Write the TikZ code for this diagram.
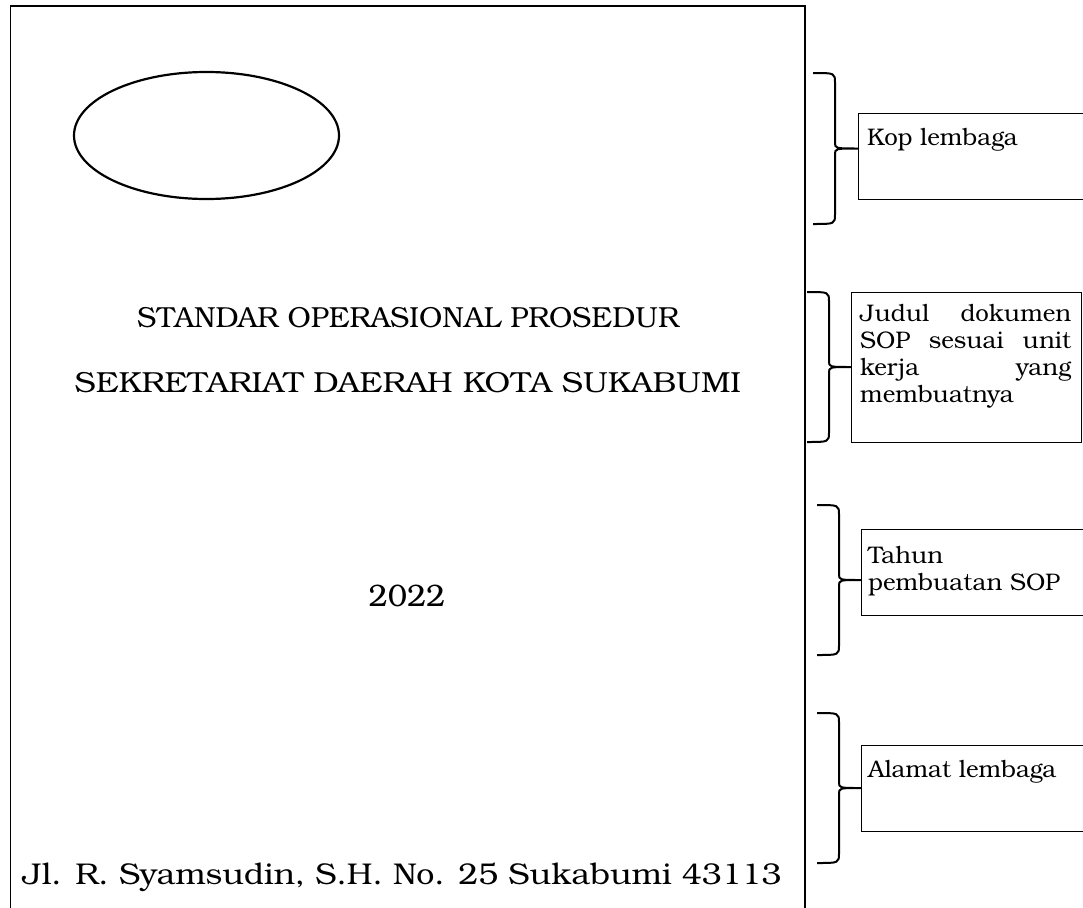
\documentclass[tikz,border=0pt]{standalone}
\usepackage{fontspec}
\setmainfont{TeX Gyre Bonum}
\tikzset{
  frame/.style={draw=black, line width=1.1pt},
  box/.style={draw=black, line width=1.1pt, inner sep=0pt},
  lbl/.style={inner sep=0pt, font=\fontsize{24}{27}\selectfont},
  bracestyle/.style={draw=black, line width=2pt, line join=round},
  ell/.style={draw=black, line width=2.2pt},
  title/.style={inner sep=0pt, font=\fontsize{29}{34}\selectfont},
}
\newcommand\curlybrace[5]{%
  \draw[bracestyle] (#1,#3) .. controls (#2,#3) and (#2,#3) .. (#2,#3+10)
    -- (#2,{(#3+#4)/2-6}) .. controls (#2,{(#3+#4)/2}) .. (#5,{(#3+#4)/2})
    .. controls (#2,{(#3+#4)/2}) .. (#2,{(#3+#4)/2+6})
    -- (#2,#4-10) .. controls (#2,#4) and (#2,#4) .. (#1,#4);}
\begin{document}
\begin{tikzpicture}[x=1pt,y=-1pt]
\useasboundingbox (0,0) rectangle (1083,907);
\clip (0,0) rectangle (1083,907);
% page frame
\draw[frame] (10.5,915) -- (10.5,6) -- (805,6) -- (805,915);
% logo ellipse
\draw[ell] (206.5,135.5) ellipse [x radius=132.5, y radius=63.5];
% main texts
\node[title, anchor=base] (h1) at (408,327) {STANDAR OPERASIONAL PROSEDUR};
\node[title, anchor=base] (h2) at (408,392) {\addfontfeatures{FakeStretch=1.1}SEKRETARIAT DAERAH KOTA SUKABUMI};
\node[title, anchor=base, font=\fontsize{31}{36}\selectfont] (yr) at (407,606) {2022};
\node[title, anchor=base, font=\fontsize{30}{34}\selectfont] (adr) at (402,884) {\addfontfeatures{FakeStretch=1.07}Jl. R. Syamsudin, S.H. No. 25 Sukabumi 43113};
% annotation boxes
\node[box, anchor=north west, minimum width=240, minimum height=86] (b1) at (858,113) {};
\node[box, anchor=north west, minimum width=230, minimum height=150] (b2) at (851,292) {};
\node[box, anchor=north west, minimum width=240, minimum height=86] (b3) at (861,529) {};
\node[box, anchor=north west, minimum width=240, minimum height=86] (b4) at (861,745) {};
\node[lbl, anchor=base west] (t1) at (867,145) {Kop lembaga};
\node[lbl, anchor=north west, text width=211, align=justify] (t2) at (860,304)
  {Judul dokumen\linebreak SOP sesuai unit\linebreak kerja yang\linebreak membuatnya};
\node[lbl, anchor=base west, align=left] (t3) at (868,590) {Tahun\\pembuatan SOP};
\node[lbl, anchor=base west] (t4) at (868,777) {Alamat lembaga};
% braces
\curlybrace{813}{835}{73}{224}{858}
\curlybrace{807}{829}{292}{442}{851}
\curlybrace{817}{839}{505}{655}{861}
\curlybrace{817}{839}{713}{863}{861}
\end{tikzpicture}
\end{document}
